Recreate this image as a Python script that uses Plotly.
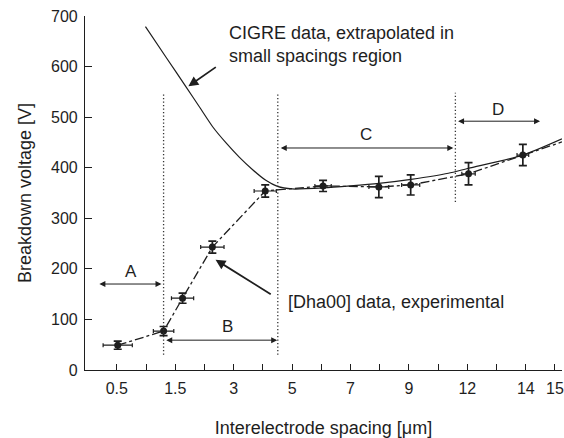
import plotly.graph_objects as go

# ---- data (x in axis-position units: tick index; 0 -> "0.5" label) ----
x_tick_pos = list(range(16))
x_tick_labels = ['0.5', '', '1.5', '', '3', '', '5', '', '7', '', '9', '', '12', '', '14', '15']
y_tick_vals = [0, 100, 200, 300, 400, 500, 600, 700]

# CIGRE curve (extrapolated)
cigre_u = [0.98, 1.69, 2.38, 2.83, 3.28, 3.74, 4.19, 4.65, 5.1, 5.5, 6.0, 7.07, 8.0, 8.97, 10.07, 11.35, 12.04, 13.91, 15.24]
cigre_v = [679, 618, 559, 520, 481, 449, 421, 396, 375, 363, 358, 360, 364, 369, 377, 389, 399, 425, 457]

# [Dha00] experimental points
exp_u = [0.03, 1.6, 2.25, 3.27, 5.08, 7.06, 8.97, 10.06, 12.04, 13.9]
exp_v = [49, 77, 142, 243, 354, 364, 362, 366, 388, 425]
exp_err_v = [8, 9, 10, 12, 12, 11, 21, 20, 22, 21]
exp_err_u = [0.5, 0.35, 0.38, 0.4, 0.38, 0.28, 0.34, 0.31, 0.23, 0.2]

# dash-dot trend through experimental data, continuing to the right edge
trend_u = exp_u + [15.24]
trend_v = exp_v + [451]

# region boundaries (dotted verticals): u, v_bottom, v_top
bound_u = [1.6, 5.51, 11.59]
bound_v0 = [30, 30, 332]
bound_v1 = [548, 548, 548]

# double arrows for regions
region_names = ['A', 'B', 'C', 'D']
region_u0 = [-0.65, 1.64, 5.56, 11.63]
region_u1 = [1.53, 5.49, 11.52, 14.49]
region_v = [170, 59, 439, 492]
region_label_u = [0.48, 3.78, 8.52, 13.06]
region_label_v = [194, 87, 465, 516]

FONT = 'Liberation Sans, Arial, sans-serif'
INK = '#1e1e1e'

fig = go.Figure()

fig.add_trace(go.Scatter(
    x=cigre_u, y=cigre_v, mode='lines',
    line=dict(color=INK, width=1.2, shape='spline', smoothing=0.6),
    hoverinfo='skip', showlegend=False))

fig.add_trace(go.Scatter(
    x=trend_u, y=trend_v, mode='lines',
    line=dict(color=INK, width=1.3, dash='dashdot'),
    hoverinfo='skip', showlegend=False))

fig.add_trace(go.Scatter(
    x=exp_u, y=exp_v, mode='markers',
    marker=dict(color=INK, size=7, symbol='circle'),
    error_y=dict(type='data', array=exp_err_v, color=INK, thickness=1.7, width=4),
    error_x=dict(type='data', array=exp_err_u, color=INK, thickness=1.2, width=2),
    showlegend=False))

shapes = []
for u, v0, v1 in zip(bound_u, bound_v0, bound_v1):
    shapes.append(dict(type='line', xref='x', yref='y', x0=u, x1=u, y0=v0, y1=v1,
                       line=dict(color='#333', width=1.3, dash='1.3px,2.2px')))

annotations = []
for name, u0, u1, v, lu, lv in zip(region_names, region_u0, region_u1, region_v,
                                   region_label_u, region_label_v):
    annotations.append(dict(x=u1, y=v, ax=u0, ay=v, xref='x', yref='y', axref='x', ayref='y',
                            text='', showarrow=True, arrowside='end+start', arrowhead=2,
                            arrowsize=1.2, arrowwidth=1, arrowcolor=INK,
                            standoff=0, startstandoff=0))
    annotations.append(dict(x=lu, y=lv, xref='x', yref='y', text=name, showarrow=False,
                            font=dict(family=FONT, size=17, color=INK)))

# pointer arrows
annotations.append(dict(x=2.45, y=561, ax=3.44, ay=601, xref='x', yref='y', axref='x', ayref='y',
                        text='', showarrow=True, arrowhead=2, arrowsize=1.1, arrowwidth=1.8,
                        arrowcolor=INK, standoff=0, startstandoff=0))
annotations.append(dict(x=3.38, y=218, ax=5.32, ay=148, xref='x', yref='y', axref='x', ayref='y',
                        text='', showarrow=True, arrowhead=2, arrowsize=1.1, arrowwidth=1.8,
                        arrowcolor=INK, standoff=0, startstandoff=0))

annotations.append(dict(x=3.78, y=644, xref='x', yref='y', xanchor='left', yanchor='middle',
                        align='left', showarrow=False,
                        text='CIGRE data, extrapolated in<br>small spacings region',
                        font=dict(family=FONT, size=18, color=INK)))
annotations.append(dict(x=5.8, y=134, xref='x', yref='y', xanchor='left', yanchor='middle',
                        align='left', showarrow=False,
                        text='[Dha00] data, experimental',
                        font=dict(family=FONT, size=18, color=INK)))

fig.update_layout(
    width=564, height=438,
    margin=dict(l=85, r=0, t=16, b=68),
    paper_bgcolor='white', plot_bgcolor='white',
    font=dict(family=FONT, size=16, color=INK),
    shapes=shapes, annotations=annotations,
    xaxis=dict(range=[-1.09, 15.24], tickvals=x_tick_pos, ticktext=x_tick_labels,
               ticks='inside', ticklen=6, tickwidth=1, tickcolor=INK,
               ticklabeloverflow='allow', ticklabelstandoff=4,
               showline=True, linecolor=INK, linewidth=1.2, showgrid=False, zeroline=False,
               tickfont=dict(size=16, color=INK),
               title=dict(text='Interelectrode spacing [μm]', font=dict(size=18, color=INK),
                          standoff=26)),
    yaxis=dict(range=[0, 700], tickvals=y_tick_vals,
               ticks='inside', ticklen=7, tickwidth=1, tickcolor=INK,
               ticklabelstandoff=3,
               showline=True, linecolor=INK, linewidth=1.2, showgrid=False, zeroline=False,
               tickfont=dict(size=16, color=INK),
               title=dict(text='Breakdown voltage [V]', font=dict(size=18, color=INK),
                          standoff=14)),
)

fig.write_html('out.html')
